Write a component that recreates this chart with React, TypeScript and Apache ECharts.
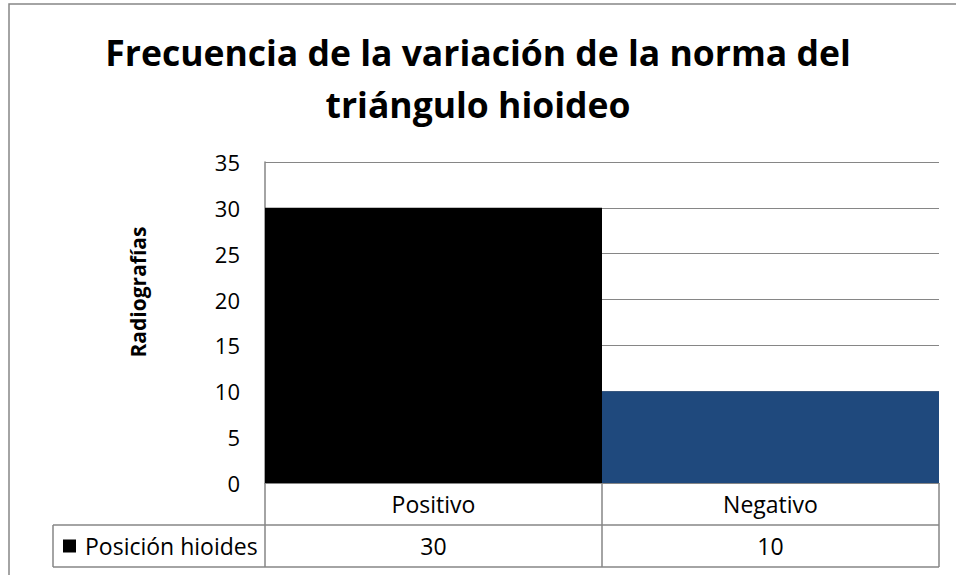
import React, { useEffect, useRef } from "react";
import * as echarts from "echarts";

const titleLines = ["Frecuencia de la variación de la norma del", "triángulo hioideo"];
const yAxisTitle = "Radiografías";
const categories = ["Positivo", "Negativo"];
const seriesName = "Posición hioides";
const values = [30, 10];
const barColors = ["#000000", "#1F497D"];
const yMin = 0;
const yMax = 35;
const yInterval = 5;

const FONT = "'Open Sans', 'Noto Sans', sans-serif";
const GRAY = "#868686";

export default function App() {
  const ref = useRef<HTMLDivElement>(null);

  useEffect(() => {
    if (!ref.current) return;
    const chart = echarts.init(ref.current, null, { renderer: "svg" });

    const gridLeft = 265;
    const gridTop = 162;
    const gridRight = 939;
    const gridBottom = 483;
    const rowH = 42;

    const option: any = {
      animation: false,
      backgroundColor: "#ffffff",
      title: {
        text: titleLines.join("\n"),
        left: "center",
        top: 26,
        padding: [0, 0, 0, 20],
        textStyle: {
          fontFamily: FONT,
          fontSize: 35.5,
          fontWeight: "bold",
          lineHeight: 52,
          color: "#000000",
        },
      },
      legend: {
        data: [{ name: seriesName, icon: "rect" }],
        left: 63,
        top: gridBottom + rowH + rowH / 2 - 13,
        padding: 0,
        itemWidth: 13,
        itemHeight: 13,
        selectedMode: false,
        textStyle: {
          fontFamily: FONT,
          fontSize: 23,
          lineHeight: 26,
          color: "#000000",
          padding: [0, 0, 0, 4],
        },
      },
      grid: {
        left: gridLeft,
        top: gridTop,
        width: gridRight - gridLeft,
        height: gridBottom - gridTop,
        containLabel: false,
      },
      xAxis: {
        type: "category",
        data: categories,
        axisLine: { show: true, lineStyle: { color: GRAY, width: 1 } },
        axisTick: {
          show: true,
          alignWithLabel: false,
          inside: false,
          length: rowH * 2,
          lineStyle: { color: GRAY, width: 1.5 },
        },
        axisLabel: {
          margin: 0,
          interval: 0,
          formatter: (val: string, idx: number) => `{c|${val}}\n{v|${values[idx]}}`,
          rich: {
            c: { fontFamily: FONT, fontSize: 23, lineHeight: rowH, color: "#000000" },
            v: { fontFamily: FONT, fontSize: 23, lineHeight: rowH, color: "#000000" },
          },
        },
        splitLine: { show: false },
      },
      yAxis: {
        type: "value",
        min: yMin,
        max: yMax,
        interval: yInterval,
        axisLine: { show: true, lineStyle: { color: GRAY, width: 1.5 } },
        axisTick: { show: false },
        axisLabel: {
          margin: 25,
          fontFamily: FONT,
          fontSize: 22,
          color: "#000000",
        },
        splitLine: { show: true, lineStyle: { color: GRAY, width: 1 } },
      },
      series: [
        {
          name: seriesName,
          type: "bar",
          barCategoryGap: "0%",
          itemStyle: { color: barColors[0] },
          data: values.map((v, i) => ({ value: v, itemStyle: { color: barColors[i] } })),
        },
      ],
      graphic: [
        {
          type: "rect",
          silent: true,
          z: -10,
          shape: { x: 9, y: 4, width: 1000, height: 700 },
          style: { fill: "none", stroke: GRAY, lineWidth: 1.5 },
        },
        {
          type: "text",
          x: 137.5,
          y: 292,
          rotation: Math.PI / 2,
          style: {
            text: yAxisTitle,
            textAlign: "center",
            textVerticalAlign: "middle",
            fontFamily: FONT,
            fontSize: 21,
            fontWeight: "bold",
            fill: "#000000",
          },
        },
        {
          type: "line",
          silent: true,
          shape: { x1: 53, y1: gridBottom + rowH, x2: gridRight, y2: gridBottom + rowH },
          style: { stroke: GRAY, lineWidth: 1.5 },
        },
        {
          type: "line",
          silent: true,
          shape: { x1: 53, y1: gridBottom + rowH * 2, x2: gridRight, y2: gridBottom + rowH * 2 },
          style: { stroke: GRAY, lineWidth: 1.5 },
        },
        {
          type: "line",
          silent: true,
          shape: { x1: 53, y1: gridBottom + rowH, x2: 53, y2: gridBottom + rowH * 2 },
          style: { stroke: GRAY, lineWidth: 1.5 },
        },
      ],
    };

    chart.setOption(option);
    return () => {
      chart.dispose();
    };
  }, []);

  return (
    <div
      ref={ref}
      style={{ position: "absolute", left: 0, top: 0, width: 956, height: 575 }}
    />
  );
}
